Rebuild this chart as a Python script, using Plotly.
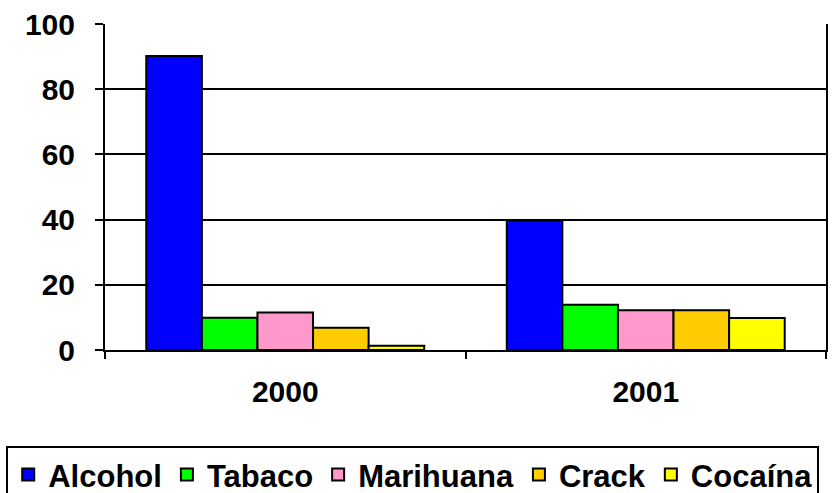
import plotly.graph_objects as go

years = ["2000", "2001"]
series_names = ["Alcohol", "Tabaco", "Marihuana", "Crack", "Cocaína"]
alcohol = [90.2, 39.7]
tabaco = [9.9, 13.9]
marihuana = [11.5, 12.2]
crack = [6.8, 12.2]
cocaina = [1.3, 9.8]
colors = ["#0000FF", "#00FF00", "#FF99CC", "#FFCC00", "#FFFF00"]

values = [alcohol, tabaco, marihuana, crack, cocaina]
FONT = "Liberation Sans, Arial, sans-serif"

fig = go.Figure()
for name, vals, col in zip(series_names, values, colors):
    fig.add_trace(go.Bar(
        x=years, y=vals, name=name,
        marker=dict(color=col, line=dict(color="black", width=2)),
    ))

fig.update_layout(
    width=838, height=493,
    margin=dict(l=105, r=12, t=24, b=143, autoexpand=False),
    paper_bgcolor="white", plot_bgcolor="white",
    barmode="group", bargap=0.229, bargroupgap=0,
    font=dict(family=FONT, size=30, color="black", weight="bold"),
    showlegend=True,
    legend=dict(
        orientation="h", xref="paper", yref="paper",
        x=-0.137, xanchor="left", y=-0.294, yanchor="top",
        bordercolor="black", borderwidth=2,
        font=dict(family=FONT, size=31, color="black", weight="bold"),
        traceorder="normal", itemwidth=30,
    ),
    xaxis=dict(
        type="category",
        showline=True, linecolor="black", linewidth=2,
        ticks="outside", ticklen=7, tickwidth=2, tickcolor="black",
        tickson="boundaries", showgrid=False,
        ticklabelstandoff=14,
        tickfont=dict(family=FONT, size=30, color="black", weight="bold"),
    ),
    yaxis=dict(
        range=[0, 100], tickvals=[0, 20, 40, 60, 80, 100],
        showline=True, linecolor="black", linewidth=2, mirror=True,
        ticks="outside", ticklen=8, tickwidth=2, tickcolor="black",
        showgrid=True, gridcolor="black", gridwidth=2,
        zeroline=False,
        ticklabelstandoff=14,
        tickfont=dict(family=FONT, size=30, color="black", weight="bold"),
    ),
)

fig.write_html("out.html")
